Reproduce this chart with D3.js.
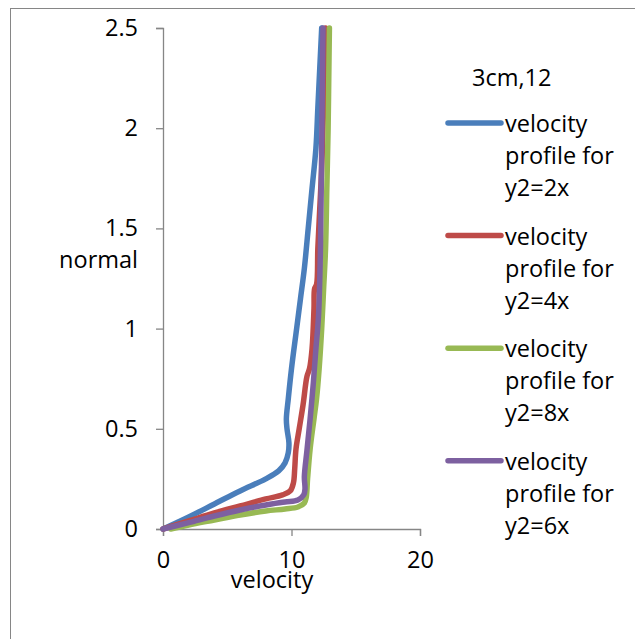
<html>
<head>
<meta charset="utf-8">
<title>3cm,12 velocity profiles</title>
<style type="text/css">
* { margin: 0; padding: 0; }
body { background: #fff; }
text { font-family: "Open Sans", sans-serif; fill: #000; }
.axis path, .axis line { stroke: #868686; stroke-width: 1.3; }
.axis text { font-size: 23.5px; font-family: "Open Sans", sans-serif; fill: #000; }
</style>
<script src="https://cdn.jsdelivr.net/npm/d3@7"></script>
<script type="text/javascript">
// velocity (x) vs normal (y), one list of [velocity, normal] per series
var profile2x = [[0,0],[2,0.06],[4,0.125],[6,0.19],[8,0.25],[9,0.29],[9.5,0.33],[9.75,0.38],[9.8,0.43],[9.65,0.5],[9.6,0.55],[9.75,0.65],[10.0,0.8],[10.4,1.0],[10.7,1.15],[11.0,1.3],[11.3,1.5],[11.6,1.7],[11.9,1.9],[12.05,2.1],[12.2,2.3],[12.35,2.5]];
var profile4x = [[0,0],[2,0.04],[4,0.08],[6,0.115],[8,0.15],[9.3,0.17],[9.9,0.19],[10.15,0.23],[10.25,0.3],[10.35,0.4],[10.6,0.5],[10.9,0.62],[11.2,0.76],[11.4,0.8],[11.6,0.9],[11.75,1.1],[11.8,1.2],[11.95,1.22],[12.05,1.4],[12.2,1.6],[12.35,1.8],[12.45,2.0],[12.55,2.25],[12.65,2.5]];
var profile8x = [[0.6,0],[2,0.02],[4,0.045],[6,0.07],[8,0.09],[9.5,0.1],[10.5,0.11],[11.0,0.13],[11.15,0.16],[11.25,0.25],[11.45,0.4],[11.75,0.55],[11.95,0.65],[12.15,0.8],[12.35,1.0],[12.5,1.2],[12.65,1.4],[12.75,1.7],[12.85,2.0],[12.9,2.25],[12.95,2.5]];
var profile6x = [[0,0],[2,0.032],[4,0.065],[6,0.095],[8,0.12],[9.5,0.135],[10.5,0.145],[10.95,0.17],[11.05,0.2],[11.0,0.26],[11.2,0.39],[11.45,0.55],[11.7,0.73],[11.9,0.9],[12.1,1.06],[12.25,1.39],[12.33,1.8],[12.4,2.2],[12.45,2.5]];

var seriesNames = ["velocity profile for y2=2x", "velocity profile for y2=4x", "velocity profile for y2=8x", "velocity profile for y2=6x"];
var seriesData = [profile2x, profile4x, profile8x, profile6x];
var seriesColors = ["#4a7ebb", "#be4b48", "#98b954", "#7d60a0"];

var xTicks = [0, 10, 20];
var yTicks = [0, 0.5, 1, 1.5, 2, 2.5];
var yTickLabels = ["0", "0.5", "1", "1.5", "2", "2.5"];
var legendTitle = "3cm,12";

window.onload = function() {
  var svg = d3.select("#chart").append("svg")
    .attr("width", 635)
    .attr("height", 639);

  // chart area border (runs off the right and bottom edge)
  svg.append("rect")
    .attr("x", 10.5).attr("y", 8.5)
    .attr("width", 700).attr("height", 700)
    .attr("fill", "none")
    .attr("stroke", "#868686")
    .attr("stroke-width", 1);

  var x = d3.scaleLinear().domain([0, 20]).range([163, 420]);
  var y = d3.scaleLinear().domain([0, 2.5]).range([529, 28]);

  var yAxis = svg.append("g").attr("class", "axis")
    .attr("transform", "translate(163,0)")
    .call(d3.axisLeft(y).tickValues(yTicks)
      .tickFormat(function(d, i) { return yTickLabels[i]; })
      .tickSize(7).tickSizeOuter(7).tickPadding(18));
  var xAxis = svg.append("g").attr("class", "axis")
    .attr("transform", "translate(0,529)")
    .call(d3.axisBottom(x).tickValues(xTicks).tickFormat(d3.format("d"))
      .tickSize(7).tickSizeOuter(7).tickPadding(15));
  xAxis.selectAll("text").attr("font-family", null).attr("font-size", null);
  yAxis.selectAll("text").attr("font-family", null).attr("font-size", null);

  svg.append("text").attr("x", 272).attr("y", 588)
    .attr("text-anchor", "middle").attr("font-size", 23.5).text("velocity");
  svg.append("text").attr("x", 138).attr("y", 268)
    .attr("text-anchor", "end").attr("font-size", 23.5).text("normal");

  var line = d3.line()
    .x(function(d) { return x(d[0]); })
    .y(function(d) { return y(d[1]); })
    .curve(d3.curveCatmullRom.alpha(0.5));

  seriesData.forEach(function(data, i) {
    svg.append("path")
      .datum(data)
      .attr("d", line)
      .attr("fill", "none")
      .attr("stroke", seriesColors[i])
      .attr("stroke-width", 5.5)
      .attr("stroke-linejoin", "round")
      .attr("stroke-linecap", "round");
  });

  // legend
  svg.append("text").attr("x", 472).attr("y", 86)
    .attr("font-size", 23.5).text(legendTitle);

  seriesNames.forEach(function(name, i) {
    var ly = 123 + i * 112.6;
    svg.append("line")
      .attr("x1", 448).attr("x2", 501)
      .attr("y1", ly).attr("y2", ly)
      .attr("stroke", seriesColors[i])
      .attr("stroke-width", 5.5)
      .attr("stroke-linecap", "round");
    var words = ["velocity", "profile for", name.replace("velocity profile for ", "")];
    var t = svg.append("text").attr("x", 505).attr("y", ly + 9).attr("font-size", 23.5);
    words.forEach(function(w, j) {
      t.append("tspan").attr("x", 505).attr("dy", j == 0 ? 0 : 32).text(w);
    });
  });
}
</script>
</head>
<body>
  <div id="chart"></div>
</body>
</html>
